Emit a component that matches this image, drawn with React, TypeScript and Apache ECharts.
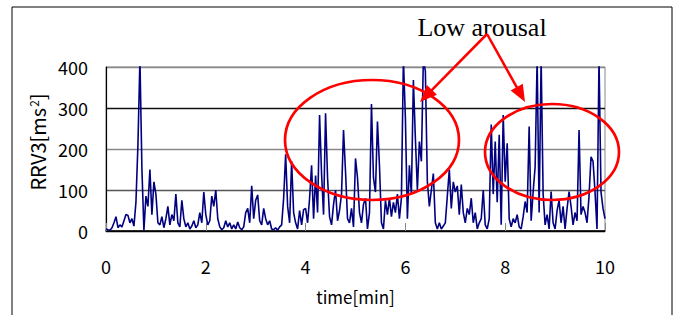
import React, { useEffect, useRef } from "react";
import * as echarts from "echarts";

// RRV3 samples, one every SAMPLE_STEP minutes starting at 0 min
const SAMPLE_STEP = 0.04;
const rrv3: number[] = [
  // 0 - 2 min
  5, 3, 2, 8, 20, 35, 8, 15, 10, 25,
  40, 38, 20, 30, 12, 70, 210, 420, 150, 2,
  85, 60, 150, 40, 120, 90, 20, 15, 35, 8,
  30, 60, 15, 40, 25, 90, 20, 10, 75, 30,
  10, 20, 5, 12, 25, 8, 15, 45, 20, 95,
  // 2 - 4 min
  40, 15, 25, 85, 60, 100, 30, 10, 3, 8,
  25, 10, 20, 5, 15, 5, 22, 8, 3, 10,
  45, 55, 20, 110, 30, 75, 88, 25, 15, 55,
  30, 15, 25, 5, 3, 8, 2, 10, 15, 80,
  187, 60, 20, 170, 45, 20, 5, 50, 15, 52,
  // 4 - 6 min
  55, 20, 80, 160, 30, 135, 45, 283, 140, 40,
  287, 130, 35, 15, 65, 100, 25, 50, 90, 246,
  145, 30, 20, 55, 10, 177, 130, 45, 20, 65,
  80, 5, 45, 310, 130, 95, 267, 160, 20, 5,
  75, 40, 80, 35, 70, 45, 90, 30, 80, 420,
  // 6 - 8 min
  275, 30, 160, 90, 368, 226, 100, 218, 170, 420,
  390, 120, 60, 100, 140, 20, 5, 20, 5, 12,
  20, 85, 150, 55, 120, 95, 110, 40, 113, 45,
  20, 55, 40, 80, 20, 45, 5, 20, 30, 100,
  15, 5, 30, 260, 90, 218, 70, 235, 15, 283,
  // 8 - 10 min
  120, 214, 30, 10, 30, 20, 40, 10, 5, 35,
  72, 45, 255, 25, 95, 157, 420, 45, 420, 90,
  15, 40, 5, 96, 20, 5, 50, 75, 20, 60,
  5, 55, 96, 60, 15, 45, 25, 246, 40, 60,
  45, 20, 85, 181, 170, 96, 5, 420, 95, 55,
  30,
];

const xTicks = [0, 2, 4, 6, 8, 10];
const yTicks = [0, 100, 200, 300, 400];
const annotationText = "Low arousal";

const FONT = "'Noto Sans CJK JP', 'Noto Sans', sans-serif";

function arrow(fromX: number, fromY: number, tipX: number, tipY: number) {
  const dx = tipX - fromX;
  const dy = tipY - fromY;
  const len = Math.sqrt(dx * dx + dy * dy);
  const ux = dx / len;
  const uy = dy / len;
  const headLen = 17;
  const half = 7;
  const bx = tipX - ux * headLen;
  const by = tipY - uy * headLen;
  return [
    {
      type: "line",
      shape: { x1: fromX, y1: fromY, x2: bx + ux * 2, y2: by + uy * 2 },
      style: { stroke: "#ff0000", lineWidth: 2.5 },
      z: 100,
    },
    {
      type: "polygon",
      shape: {
        points: [
          [tipX, tipY],
          [bx - uy * half, by + ux * half],
          [bx + uy * half, by - ux * half],
        ],
      },
      style: { fill: "#ff0000" },
      z: 100,
    },
  ];
}

export default function App() {
  const ref = useRef<HTMLDivElement>(null);

  useEffect(() => {
    document.body.style.margin = "0";
    if (!ref.current) return;
    const chart = echarts.init(ref.current, null, { renderer: "svg" });

    const data = rrv3.map((v, i) => [+(i * SAMPLE_STEP).toFixed(2), v]);

    const apexX = 487;
    const apexY = 34;

    chart.setOption({
      animation: false,
      backgroundColor: "#ffffff",
      grid: {
        left: 106,
        right: 72,
        top: 67,
        bottom: 84,
        show: true,
        borderColor: "#888888",
        borderWidth: 1,
      },
      xAxis: {
        type: "value",
        min: xTicks[0],
        max: xTicks[xTicks.length - 1],
        interval: 2,
        name: "time[min]",
        nameLocation: "middle",
        nameGap: 57,
        nameTextStyle: {
          fontFamily: FONT,
          fontSize: 17,
          color: "#000",
          lineHeight: 17,
        },
        axisLine: { show: true, lineStyle: { color: "#000", width: 1.5 } },
        axisTick: {
          show: true,
          inside: true,
          length: 8,
          lineStyle: { color: "#888" },
        },
        axisLabel: {
          fontFamily: FONT,
          fontSize: 18,
          color: "#000",
          margin: 26,
          lineHeight: 18,
        },
        splitLine: { show: false },
      },
      yAxis: {
        type: "value",
        min: yTicks[0],
        max: yTicks[yTicks.length - 1],
        interval: 100,
        name: "RRV3[ms{sup|2}]",
        nameLocation: "middle",
        nameRotate: 90,
        nameGap: 58,
        nameTextStyle: {
          fontFamily: FONT,
          fontSize: 20,
          color: "#000",
          padding: [0, 0, 0, 14],
          rich: {
            sup: {
              fontFamily: FONT,
              fontSize: 12,
              verticalAlign: "top",
              padding: [0, 0, 6, 1],
              color: "#000",
            },
          },
        },
        axisLine: { show: true, lineStyle: { color: "#000", width: 1.2 } },
        axisTick: { show: false },
        axisLabel: {
          fontFamily: FONT,
          fontSize: 18,
          color: "#000",
          margin: 18,
          padding: [7, 0, 0, 0],
        },
        splitLine: {
          show: true,
          lineStyle: {
            color: ["#000", "#555", "#888", "#111", "#888"],
            width: 1.3,
          },
        },
      },
      series: [
        {
          type: "line",
          data,
          showSymbol: false,
          clip: true,
          lineStyle: { color: "#000080", width: 1.6 },
        },
      ],
      graphic: [
        {
          type: "rect",
          shape: { x: 12, y: 7, width: 660, height: 400 },
          style: { fill: "none", stroke: "#000", lineWidth: 1 },
          z: -10,
          silent: true,
        },
        {
          type: "ellipse",
          shape: { cx: 372, cy: 140, rx: 87, ry: 60 },
          style: { fill: "none", stroke: "#ff0000", lineWidth: 2.7 },
          z: 100,
        },
        {
          type: "ellipse",
          shape: { cx: 552, cy: 152, rx: 67, ry: 48 },
          style: { fill: "none", stroke: "#ff0000", lineWidth: 2.7 },
          z: 100,
        },
        {
          type: "text",
          x: 482,
          y: 27,
          style: {
            text: annotationText,
            fontFamily: "'Liberation Serif', 'Times New Roman', serif",
            fontSize: 26,
            fill: "#000",
            align: "center",
            verticalAlign: "middle",
          },
          z: 100,
        },
        ...arrow(apexX, apexY, 420, 102),
        ...arrow(apexX, apexY, 525, 102),
      ],
    });

    return () => chart.dispose();
  }, []);

  return <div ref={ref} style={{ width: 677, height: 315 }} />;
}
